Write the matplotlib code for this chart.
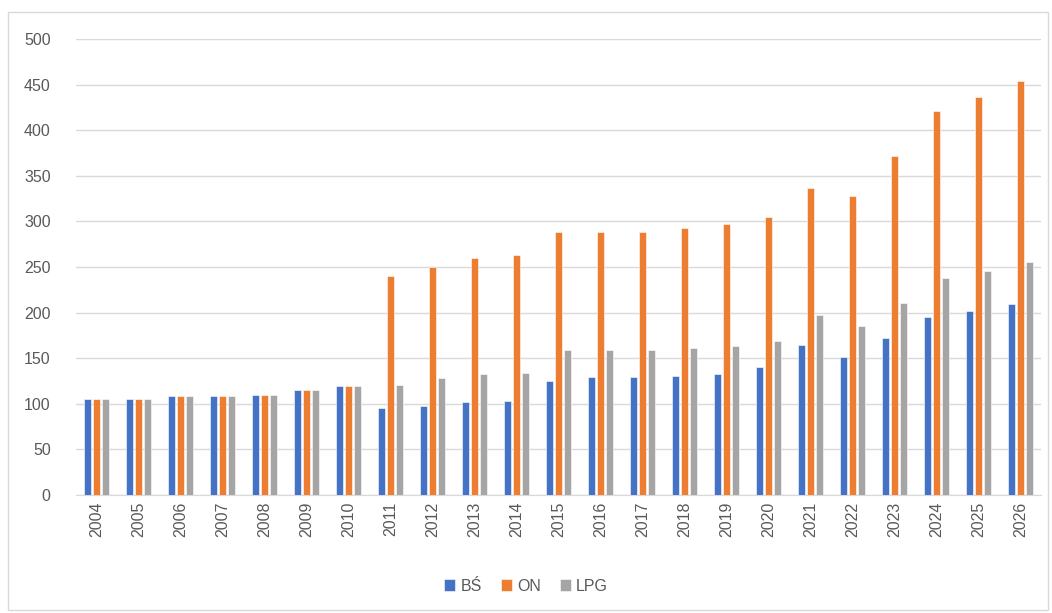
import numpy as np
import matplotlib.pyplot as plt
from matplotlib.patches import Rectangle

# ------------------------------------------------------------
# dane
# ------------------------------------------------------------
years = [str(y) for y in range(2004, 2027)]
bs = [105, 105, 108, 108, 110, 115, 119, 95, 98, 102, 103, 125, 129, 129,
      130, 133, 140, 164, 151, 172, 195, 202, 209]
on = [105, 105, 108, 108, 110, 115, 119, 240, 250, 260, 263, 288, 288, 288,
      293, 297, 305, 337, 328, 372, 421, 436, 454]
lpg = [105, 105, 108, 108, 110, 115, 119, 121, 128, 133, 134, 159, 159, 159,
       161, 163, 169, 197, 185, 210, 238, 246, 255]
series_names = ["BŚ", "ON", "LPG"]
colors = ["#4472C4", "#ED7D31", "#A5A5A5"]

plt.rcParams["font.family"] = ["Liberation Sans", "DejaVu Sans"]
text_color = "#595959"
grid_color = "#D9D9D9"

fig = plt.figure(figsize=(10.52, 6.13), dpi=100)
ax = fig.add_axes([0.072, 0.1925, 0.918, 0.744])

x = np.arange(len(years))
width = 0.17
step = 0.215
for i, (vals, name, c) in enumerate(zip([bs, on, lpg], series_names, colors)):
    ax.bar(x + (i - 1) * step, vals, width, color=c, label=name,
           edgecolor="white", linewidth=0.4, zorder=3)

ax.set_xlim(-0.5, len(years) - 0.5)
ax.set_ylim(0, 500)
ax.set_yticks(range(0, 501, 50))
ax.set_xticks(x)
ax.set_xticklabels(years, rotation=90)
ax.tick_params(axis="both", length=0, labelsize=11.5, colors=text_color)
ax.tick_params(axis="y", pad=18)
ax.tick_params(axis="x", pad=5)
ax.yaxis.grid(True, color=grid_color, linewidth=1, zorder=0)
for s in ["top", "right", "left"]:
    ax.spines[s].set_visible(False)
ax.spines["bottom"].set_color(grid_color)

leg = fig.legend(loc="center", bbox_to_anchor=(0.5, 0.044), ncol=3,
                 frameon=False, fontsize=11.5, handlelength=0.7,
                 handleheight=0.7, handletextpad=0.3, columnspacing=1.2)
for t in leg.get_texts():
    t.set_color(text_color)

# ramka obszaru wykresu
fig.patches.append(Rectangle((0.008, 0.005), 0.988, 0.975, transform=fig.transFigure,
                             fill=False, edgecolor=grid_color, linewidth=1))

fig.savefig("out.png", dpi=100)
